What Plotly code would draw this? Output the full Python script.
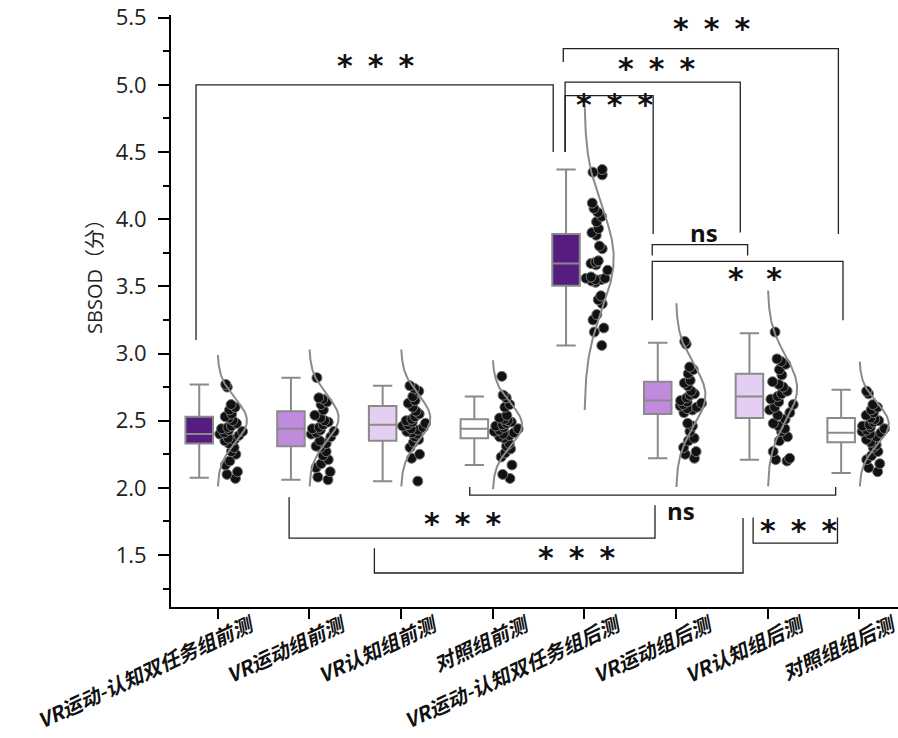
import numpy as np
import plotly.graph_objects as go

groups = ["VR运动-认知双任务组前测", "VR运动组前测", "VR认知组前测", "对照组前测",
          "VR运动-认知双任务组后测", "VR运动组后测", "VR认知组后测", "对照组组后测"]

# box statistics
lower_fence = [2.075, 2.06, 2.05, 2.17, 3.06, 2.22, 2.21, 2.11]
q1 = [2.33, 2.31, 2.35, 2.37, 3.505, 2.55, 2.52, 2.34]
median = [2.40, 2.44, 2.47, 2.44, 3.67, 2.65, 2.68, 2.41]
q3 = [2.53, 2.57, 2.61, 2.51, 3.89, 2.79, 2.85, 2.52]
upper_fence = [2.77, 2.82, 2.76, 2.68, 4.37, 3.08, 3.15, 2.73]

# normal-fit curves (mean, sd)
fit_mean = [2.50, 2.52, 2.52, 2.47, 3.71, 2.69, 2.74, 2.475]
fit_sd = [0.163, 0.17, 0.17, 0.16, 0.377, 0.228, 0.243, 0.155]

# individual scores
g0 = [2.77, 2.75, 2.62, 2.60, 2.58, 2.55, 2.53, 2.52, 2.50, 2.48, 2.46, 2.45, 2.44, 2.43, 2.42,
      2.41, 2.40, 2.39, 2.37, 2.36, 2.35, 2.33, 2.30, 2.27, 2.25, 2.20, 2.17, 2.12, 2.10, 2.07]
g1 = [2.82, 2.67, 2.66, 2.64, 2.62, 2.58, 2.54, 2.52, 2.50, 2.49, 2.47, 2.45, 2.44, 2.43, 2.42,
      2.41, 2.40, 2.38, 2.35, 2.33, 2.31, 2.30, 2.27, 2.24, 2.21, 2.18, 2.15, 2.12, 2.08, 2.06]
g2 = [2.76, 2.74, 2.72, 2.68, 2.65, 2.63, 2.60, 2.57, 2.55, 2.53, 2.51, 2.50, 2.49, 2.48, 2.47,
      2.46, 2.45, 2.44, 2.43, 2.42, 2.41, 2.40, 2.38, 2.36, 2.34, 2.30, 2.25, 2.22, 2.05]
g3 = [2.83, 2.69, 2.67, 2.62, 2.60, 2.54, 2.52, 2.51, 2.50, 2.49, 2.48, 2.47, 2.46, 2.45, 2.44,
      2.43, 2.42, 2.41, 2.40, 2.39, 2.38, 2.37, 2.33, 2.31, 2.29, 2.26, 2.23, 2.17, 2.10, 2.07]
g4 = [4.37, 4.35, 4.33, 4.12, 4.08, 4.05, 4.02, 3.98, 3.93, 3.90, 3.88, 3.80, 3.78, 3.69, 3.68,
      3.67, 3.66, 3.62, 3.57, 3.56, 3.56, 3.55, 3.55, 3.54, 3.53, 3.43, 3.40, 3.37, 3.29, 3.25,
      3.19, 3.16, 3.06]
g5 = [3.09, 3.07, 2.90, 2.88, 2.85, 2.80, 2.78, 2.76, 2.72, 2.70, 2.69, 2.67, 2.65, 2.64, 2.63,
      2.62, 2.61, 2.60, 2.59, 2.58, 2.56, 2.48, 2.46, 2.42, 2.37, 2.35, 2.30, 2.27, 2.25, 2.22]
g6 = [3.16, 2.96, 2.94, 2.92, 2.88, 2.84, 2.79, 2.77, 2.75, 2.72, 2.70, 2.68, 2.66, 2.64, 2.62,
      2.60, 2.58, 2.56, 2.54, 2.51, 2.48, 2.46, 2.44, 2.42, 2.38, 2.35, 2.27, 2.22, 2.21, 2.20]
g7 = [2.72, 2.70, 2.62, 2.60, 2.58, 2.56, 2.54, 2.52, 2.51, 2.50, 2.49, 2.47, 2.46, 2.45, 2.44,
      2.43, 2.42, 2.41, 2.40, 2.38, 2.36, 2.34, 2.32, 2.30, 2.27, 2.24, 2.21, 2.18, 2.15, 2.12]
scores = [g0, g1, g2, g3, g4, g5, g6, g7]

box_fill = ["#561c80", "#c08ade", "#e4cff3", "#ffffff",
            "#561c80", "#c08ade", "#e4cff3", "#ffffff"]

# significance brackets: (x_left, x_right, y_bar, y_end_left, y_end_right, label, x_label, y_label)
brackets = [
    (-0.235, 3.66, 5.00, 3.10, 4.50, "*\u2002*\u2002*", 1.72, 5.143),
    (3.77, 6.77, 5.27, 5.17, 3.89, "*\u2002*\u2002*", 5.39, 5.418),
    (3.79, 5.70, 5.02, 4.50, 3.90, "*\u2002*\u2002*", 4.79, 5.12),
    (3.79, 4.75, 4.92, 4.50, 3.89, "*\u2002*\u2002*", 4.33, 4.853),
    (4.74, 5.78, 3.81, 3.73, 3.73, "ns", 5.30, 3.90),
    (4.74, 6.82, 3.686, 3.247, 3.247, "*\u2002\u2005*", 5.86, 3.56),
    (0.78, 4.77, 1.626, 1.93, 1.87, "*\u2002*\u2002*", 2.67, 1.738),
    (1.71, 5.73, 1.366, 1.55, 1.775, "*\u2002*\u2002*", 3.91, 1.478),
    (2.75, 6.74, 1.946, 2.006, 2.006, "ns", 5.05, 1.835),
    (5.84, 6.76, 1.589, 1.78, 1.78, "*\u2002*\u2002*", 6.34, 1.686),
]

GREY = "#8a8a8a"
fig = go.Figure()

for i in range(len(groups)):
    # box
    fig.add_trace(go.Box(
        x=[i - 0.2], q1=[q1[i]], median=[median[i]], q3=[q3[i]],
        lowerfence=[lower_fence[i]], upperfence=[upper_fence[i]],
        width=0.3, whiskerwidth=0.7, fillcolor=box_fill[i],
        line=dict(color=GREY, width=2), boxpoints=False,
        showlegend=False, hoverinfo="skip"))
    # half normal curve
    m, s = fit_mean[i], fit_sd[i]
    t = np.linspace(m - 3 * s, m + 3 * s, 200)
    fig.add_trace(go.Scatter(
        x=i + 0.32 * np.exp(-0.5 * ((t - m) / s) ** 2), y=t, mode="lines",
        line=dict(color=GREY, width=2), showlegend=False, hoverinfo="skip"))
    # jittered points
    fig.add_trace(go.Box(
        x=[i] * len(scores[i]), y=scores[i], boxpoints="all", jitter=1.0, pointpos=1.1,
        width=0.28, fillcolor="rgba(0,0,0,0)", line=dict(width=0, color="rgba(0,0,0,0)"),
        marker=dict(color="#111111", size=10, line=dict(color="#777777", width=1)),
        showlegend=False, hoverinfo="skip"))

shapes = []
annotations = []
for (xa, xb, yb, ya0, yb0, lab, lx, ly) in brackets:
    shapes.append(dict(type="path", xref="x", yref="y",
                       path=f"M {xa},{ya0} L {xa},{yb} L {xb},{yb} L {xb},{yb0}",
                       line=dict(color="#222222", width=1.3)))
    is_ns = lab == "ns"
    annotations.append(dict(
        x=lx, y=ly, xref="x", yref="y", text=lab, showarrow=False,
        xanchor="center", yanchor="middle",
        font=dict(family="Open Sans" if is_ns else "DejaVu Sans",
                  size=24 if is_ns else 30, color="#111111", weight="bold")))

annotations.append(dict(
    x=-0.1045, y=0.566, xref="paper", yref="paper", text="SBSOD（分）", showarrow=False,
    textangle=-90, xanchor="center", yanchor="middle",
    font=dict(family="Open Sans, Noto Sans CJK SC", size=20, color="#222222")))

fig.update_layout(
    width=898, height=738, plot_bgcolor="white", paper_bgcolor="white",
    margin=dict(l=171, r=0, t=15, b=131, autoexpand=False),
    shapes=shapes, annotations=annotations, boxmode="overlay",
    xaxis=dict(range=[-0.508, 7.42], tickmode="array", tickvals=list(range(len(groups))),
               ticktext=groups, tickangle=-25, ticks="outside", ticklen=10, tickwidth=2,
               tickcolor="black", showline=True, linecolor="black", linewidth=2,
               showgrid=False, zeroline=False, ticklabelshift=32, ticklabelstandoff=-12,
               automargin=False, ticklabeloverflow="allow",
               tickfont=dict(family="Noto Sans CJK SC", size=20, color="#111111",
                             weight="bold", style="italic")),
    yaxis=dict(range=[1.113, 5.52], tickmode="array",
               tickvals=[1.5, 2.0, 2.5, 3.0, 3.5, 4.0, 4.5, 5.0, 5.5],
               ticktext=["1.5", "2.0", "2.5", "3.0", "3.5", "4.0", "4.5", "5.0", "5.5"],
               ticks="outside", ticklen=11, tickwidth=2, tickcolor="black",
               showline=True, linecolor="black", linewidth=2, showgrid=False, zeroline=False,
               automargin=False, ticklabelstandoff=7,
               minor=dict(tickvals=[1.25, 1.75, 2.25, 2.75, 3.25, 3.75, 4.25, 4.75, 5.25],
                          ticks="outside", ticklen=6, tickwidth=2, tickcolor="black"),
               tickfont=dict(family="Open Sans", size=22, color="#222222")),
)

fig.write_html("out.html")
